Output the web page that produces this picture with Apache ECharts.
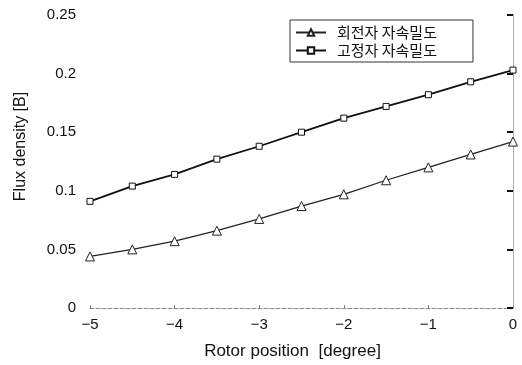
<!DOCTYPE html>
<html><head><meta charset="utf-8">
<script src="https://cdn.jsdelivr.net/npm/echarts@6/dist/echarts.min.js"></script>
<style>html,body{margin:0;padding:0;background:#fff}#c{width:522px;height:365px}</style>
</head><body><div id="c"></div>
<script>
const positions = [-5, -4.5, -4, -3.5, -3, -2.5, -2, -1.5, -1, -0.5, 0];
const rotorDensity = [0.044, 0.050, 0.057, 0.066, 0.076, 0.087, 0.097, 0.109, 0.120, 0.131, 0.142];
const statorDensity = [0.091, 0.104, 0.114, 0.127, 0.138, 0.150, 0.162, 0.172, 0.182, 0.193, 0.203];
const seriesNames = ['회전자 자속밀도', '고정자 자속밀도'];
const xTicks = [-5, -4, -3, -2, -1, 0];
const yTicks = [0, 0.05, 0.1, 0.15, 0.2, 0.25];

const chart = echarts.init(document.getElementById('c'));
const font = 'Liberation Sans, Arial, sans-serif';
chart.setOption({
  animation: false,
  backgroundColor: '#fff',
  grid: {left: 90, right: 9, top: 15, bottom: 54},
  legend: {
    orient: 'vertical', left: 290, top: 20, width: 181,
    data: seriesNames,
    borderColor: '#333', borderWidth: 1, borderRadius: 0,
    padding: [5, 36, 4, 5], itemGap: 3, itemWidth: 30, itemHeight: 8,
    textStyle: {fontFamily: 'Noto Sans CJK KR', fontSize: 15, color: '#111', padding: [0, 0, 0, 6]}
  },
  xAxis: {
    type: 'value', min: -5, max: 0, interval: 1,
    name: 'Rotor position  [degree]', nameLocation: 'middle', nameGap: 35,
    nameTextStyle: {fontFamily: font, fontSize: 17, color: '#111', padding: [0, 18, 0, 0]},
    axisLine: {onZero: false, lineStyle: {color: '#888', type: 'dashed', width: 1}},
    axisTick: {inside: true, length: 3, lineStyle: {color: '#888'}},
    axisLabel: {fontFamily: font, fontSize: 15, color: '#111', margin: 9,
      formatter: v => xTicks.includes(v) ? (v < 0 ? '\u2212' + Math.abs(v) : String(v)) : ''},
    splitLine: {show: false}
  },
  yAxis: {
    type: 'value', min: 0, max: 0.25, interval: 0.05,
    name: 'Flux density [B]', nameLocation: 'middle', nameGap: 61,
    nameTextStyle: {fontFamily: font, fontSize: 16, color: '#111', padding: [0, 0, 0, 30]},
    axisLine: {lineStyle: {color: '#999', type: 'dotted', width: 1}},
    axisTick: {inside: false, length: 6, lineStyle: {color: '#111', width: 2}},
    axisLabel: {fontFamily: font, fontSize: 15, color: '#111', margin: 14,
      formatter: v => yTicks.some(t => Math.abs(t - v) < 1e-9) ? String(+v.toFixed(2)) : ''},
    splitLine: {show: false}
  },
  series: [
    {
      name: seriesNames[0], type: 'line',
      data: positions.map((p, i) => [p, rotorDensity[i]]),
      symbol: 'triangle', symbolSize: 9, showAllSymbol: true,
      lineStyle: {color: '#222', width: 1.3},
      itemStyle: {color: '#fff', borderColor: '#222', borderWidth: 1}
    },
    {
      name: seriesNames[1], type: 'line',
      data: positions.map((p, i) => [p, statorDensity[i]]),
      symbol: 'rect', symbolSize: 6, showAllSymbol: true,
      lineStyle: {color: '#111', width: 1.8},
      itemStyle: {color: '#fff', borderColor: '#111', borderWidth: 1}
    }
  ]
});
</script></body></html>
